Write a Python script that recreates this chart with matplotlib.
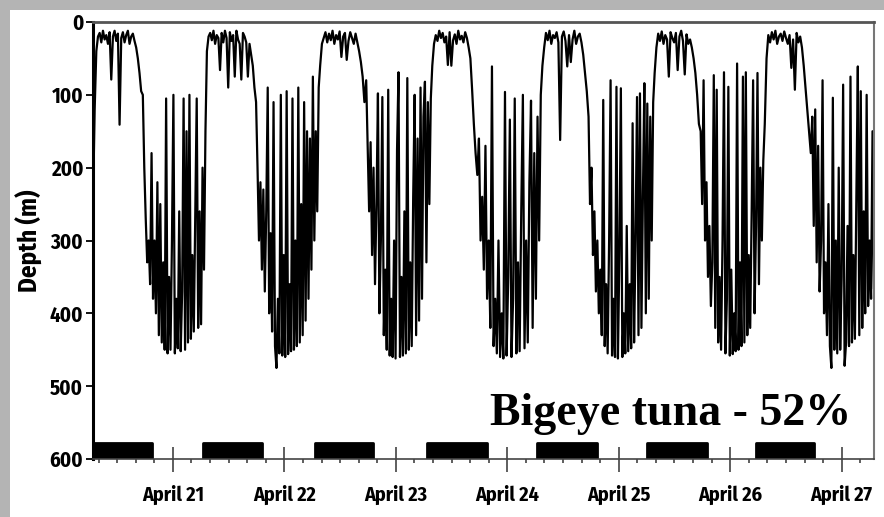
import numpy as np
import matplotlib
matplotlib.use('Agg')
import matplotlib.pyplot as plt
from matplotlib.patches import Rectangle
from matplotlib.ticker import MultipleLocator

# time axis: days after April 20 00:00
# edges of the alternating shallow (night) / deep (day) phases
phase_edges = [0.283, 0.730, 1.305, 1.746, 2.321, 2.734, 3.327, 3.731,
               4.315, 4.729, 5.322, 5.735, 6.310, 6.723, 7.29]

# depth records (m) for each phase
night0 = [250, 120, 40, 20, 15, 28, 12, 24, 18, 30, 14, 79, 20, 12, 26, 16, 141, 22,
          14, 28, 18, 12, 30, 20, 16, 26, 35, 50, 70, 95]
day1 = [100, 200, 270, 330, 300, 360, 180, 380, 300, 400, 220, 430, 250, 440, 330, 450,
        105, 455, 350, 450, 300, 100, 455, 380, 448, 260, 452, 370, 105, 450, 150, 440,
        100, 435, 320, 425, 270, 105, 420, 260, 415, 200, 340, 150]
night1 = [40, 20, 15, 25, 12, 30, 18, 22, 66, 15, 28, 12, 22, 90, 14, 26, 18, 75, 12,
          24, 30, 79, 15, 20, 28, 75, 30, 45, 60, 90]
day2 = [110, 200, 300, 220, 340, 230, 370, 260, 90, 400, 290, 425, 110, 445, 475, 380,
        455, 100, 458, 320, 460, 95, 456, 360, 452, 105, 450, 300, 445, 90, 440, 250,
        430, 110, 410, 150, 380, 160, 340, 75, 300, 150, 260, 90]
night2 = [60, 30, 22, 14, 28, 16, 25, 12, 30, 18, 24, 13, 48, 20, 15, 52, 26, 14, 22,
          30, 16, 28, 40, 55, 75, 110]
day3 = [80, 170, 260, 165, 320, 200, 360, 250, 98, 400, 300, 103, 430, 340, 450, 93,
        458, 380, 460, 300, 462, 176, 69, 460, 350, 458, 260, 455, 77, 450, 330, 445,
        240, 100, 430, 160, 410, 90, 380, 130, 82, 330, 110, 250, 105]
night3 = [60, 30, 18, 26, 12, 22, 15, 28, 20, 59, 14, 60, 25, 17, 30, 12, 24, 19, 28,
          14, 22, 35, 50, 93, 140, 180]
day4 = [210, 160, 300, 240, 340, 170, 380, 300, 420, 61, 445, 380, 455, 300, 460, 400,
        462, 96, 458, 350, 134, 460, 380, 105, 455, 330, 452, 260, 100, 448, 300, 440,
        220, 108, 420, 180, 380, 130, 300, 100]
night4 = [60, 35, 15, 25, 12, 30, 18, 22, 14, 28, 162, 20, 13, 26, 61, 18, 55, 24, 12,
          30, 20, 16, 28, 45, 70, 95]
day5 = [130, 250, 200, 320, 260, 370, 300, 400, 340, 430, 107, 445, 360, 455, 300, 80,
        458, 380, 460, 89, 462, 320, 91, 460, 400, 455, 280, 452, 360, 448, 139, 440,
        300, 103, 430, 98, 420, 240, 84, 400, 112, 380, 130, 300, 110]
night5 = [70, 35, 16, 26, 13, 30, 18, 24, 75, 14, 22, 28, 15, 66, 20, 12, 26, 72, 17,
          30, 24, 35, 50, 70, 100, 140]
day6 = [150, 250, 80, 300, 220, 350, 280, 390, 330, 73, 420, 93, 440, 350, 450, 300,
        69, 455, 380, 89, 458, 340, 456, 400, 452, 57, 450, 330, 445, 75, 440, 69,
        430, 320, 420, 260, 80, 400, 280, 70, 360, 200, 300, 190]
night6 = [140, 50, 18, 28, 14, 24, 12, 30, 20, 16, 26, 13, 22, 30, 18, 63, 24, 93, 15,
          28, 20, 35, 60, 90, 120, 150]
day7 = [180, 130, 280, 120, 330, 170, 370, 300, 80, 400, 330, 430, 250, 445, 475, 104,
        450, 300, 455, 200, 450, 350, 86, 472, 440, 280, 445, 75, 440, 320, 435, 240,
        61, 430, 95, 420, 260, 400, 100, 390, 300, 380, 150, 365]

# night periods (black bars on the time axis)
night_start = [0.283, 1.269, 2.274, 3.278, 4.265, 5.251, 6.229]
night_end = [0.812, 1.798, 2.794, 3.816, 4.803, 5.789, 6.749]

day_ticks = [1, 2, 3, 4, 5, 6, 7]
day_labels = ['April 21', 'April 22', 'April 23', 'April 24', 'April 25', 'April 26', 'April 27']
depth_ticks = [0, 100, 200, 300, 400, 500, 600]

segments = [night0, day1, night1, day2, night2, day3, night3, day4,
            night4, day5, night5, day6, night6, day7]
t, d = [], []
for k, seg in enumerate(segments):
    last = k == len(segments) - 1
    t.append(np.linspace(phase_edges[k], phase_edges[k + 1], len(seg), endpoint=last))
    d.append(np.array(seg, dtype=float))
t = np.concatenate(t)
d = np.concatenate(d)

narrow = ['Fira Sans Condensed', 'DejaVu Sans']

W, H = 884, 517
fig = plt.figure(figsize=(W / 100, H / 100), dpi=100, facecolor='#b4b4b4')
fig.patches.append(Rectangle((10 / W, 0), 1, 1 - 10 / H, transform=fig.transFigure,
                             facecolor='white', edgecolor='none', zorder=-1))
ax = fig.add_axes([93 / W, 1 - 459 / H, (874 - 93) / W, (459 - 22) / H])

ax.plot(t, d, color='black', lw=1.6)
ax.broken_barh([(s, e - s) for s, e in zip(night_start, night_end)], (578, 22),
               facecolor='black', edgecolor='black', lw=2, joinstyle='round')

ax.set_xlim(0.283, 7.29)
ax.set_ylim(600, 0)
ax.set_yticks(depth_ticks)
ax.set_xticks(day_ticks)
ax.set_xticklabels(day_labels)
ax.xaxis.set_minor_locator(MultipleLocator(1 / 6))

for lab in ax.get_xticklabels() + ax.get_yticklabels():
    lab.set_family(narrow)
    lab.set_fontweight('bold')
ax.tick_params(axis='y', direction='out', length=5, width=1.3, labelsize=15, pad=2)
ax.tick_params(axis='x', which='major', direction='inout', length=18, width=1.1,
               labelsize=14.5, pad=10, color='#333333')
ax.tick_params(axis='x', which='minor', direction='out', length=3, width=1.1, color='#333333')

ax.set_ylabel('Depth (m)', family=narrow, fontweight='bold', fontsize=18, labelpad=5)

ax.spines['left'].set_linewidth(2.2)
ax.spines['left'].set_color('black')
ax.spines['top'].set_linewidth(2)
ax.spines['top'].set_color('#555555')
ax.spines['right'].set_linewidth(1.5)
ax.spines['right'].set_color('#777777')
ax.spines['bottom'].set_linewidth(1.2)
ax.spines['bottom'].set_color('#444444')

fig.text(851 / W, 1 - 425 / H, 'Bigeye tuna - 52%', ha='right', va='baseline',
         family=['Liberation Serif', 'DejaVu Serif'], fontweight='bold', fontsize=33)

fig.savefig('out.png', dpi=100, facecolor=fig.get_facecolor())
